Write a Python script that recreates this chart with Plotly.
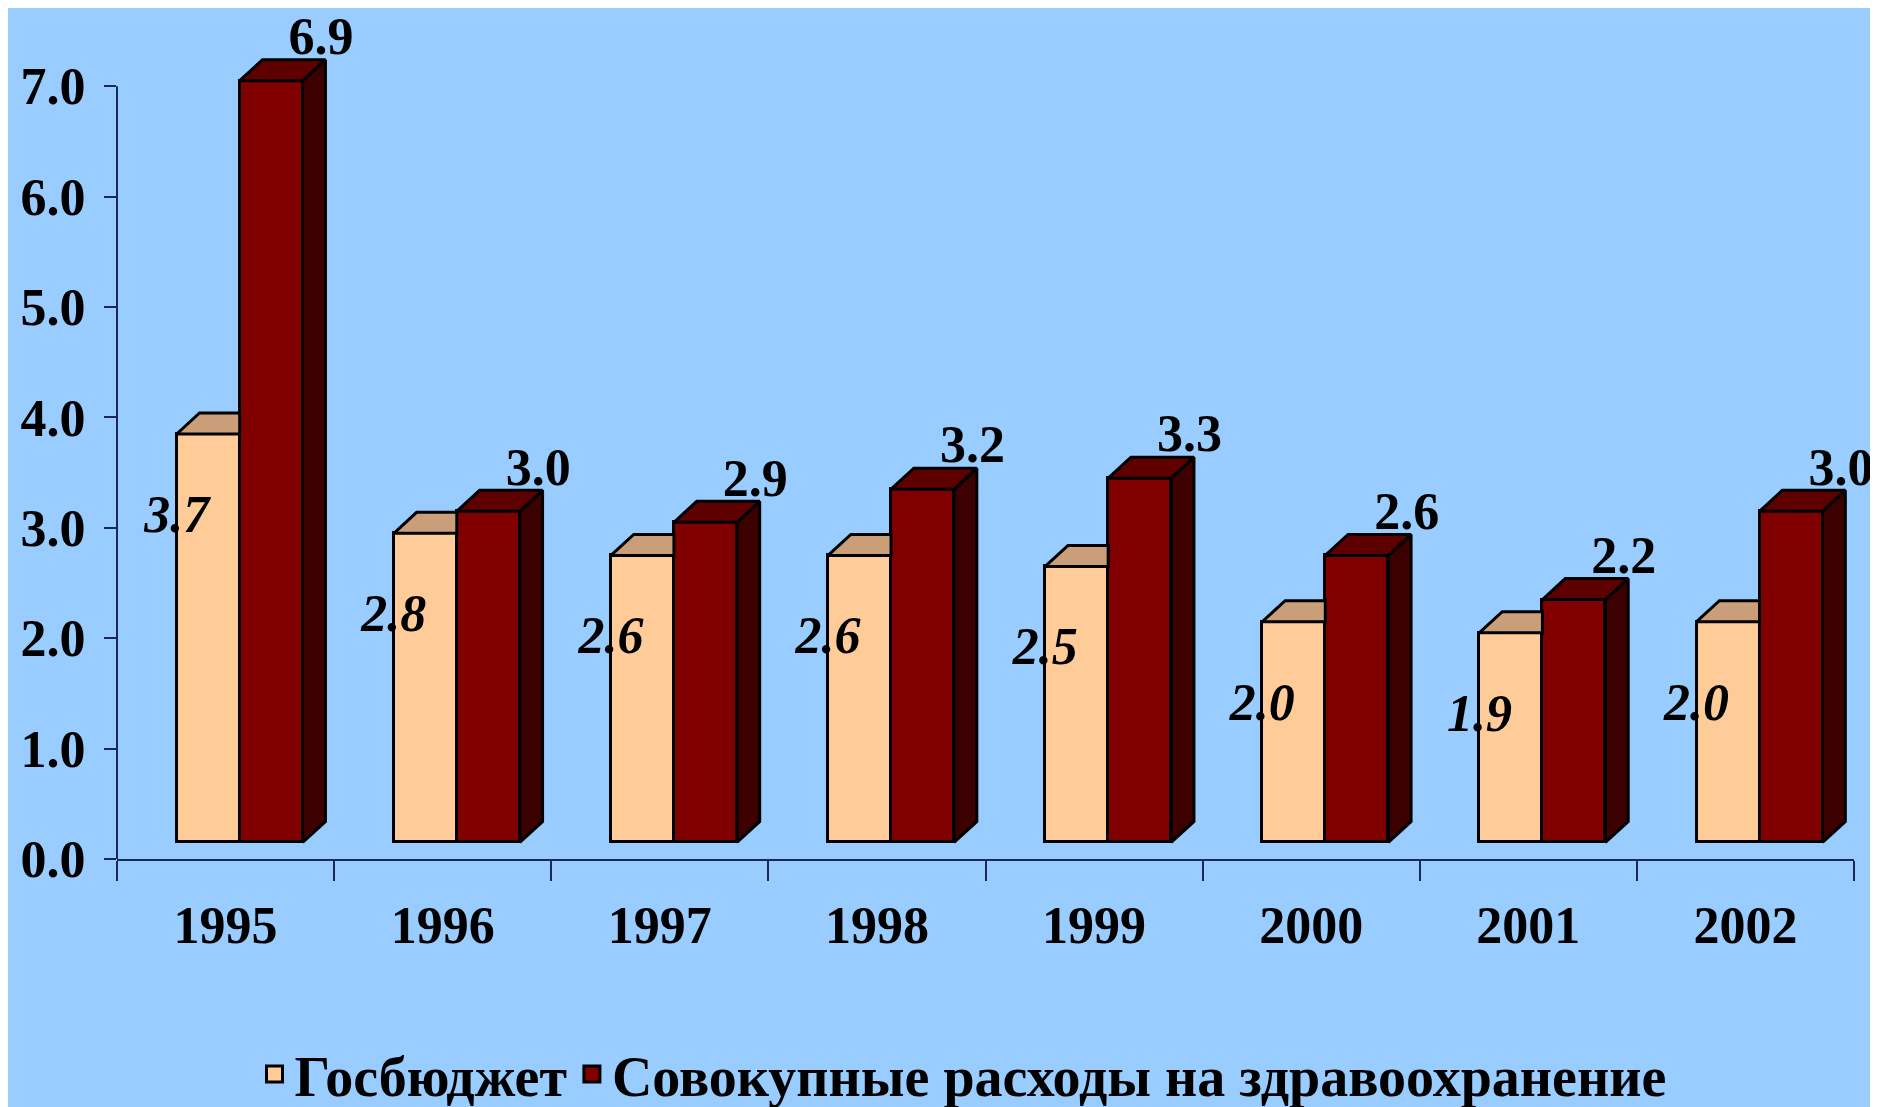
import plotly.graph_objects as go

years = ["1995", "1996", "1997", "1998", "1999", "2000", "2001", "2002"]
gosbudget = [3.7, 2.8, 2.6, 2.6, 2.5, 2.0, 1.9, 2.0]
total_health = [6.9, 3.0, 2.9, 3.2, 3.3, 2.6, 2.2, 3.0]
y_ticks = [0, 1, 2, 3, 4, 5, 6, 7]
name_a = "Госбюджет"
name_b = "Совокупные расходы на здравоохранение"

# --- styling / 3D emulation constants (layout, not data) ---
BG = "#99CCFF"
C_A, C_A_TOP = "#FFCC99", "#C99E78"
C_B, C_B_TOP, C_B_SIDE = "#800000", "#5E0000", "#3D0000"
AX = "#1A2A55"
FONT = "Liberation Serif"
FS = 52
BASE = 0.15      # floor offset of front faces
DX, DY = 0.105, 0.19   # depth offset (x units, y units)
A_OFF, W = -0.225, 0.29
B_OFF = A_OFF + W

idx = list(range(len(years)))

fig = go.Figure()
fig.add_trace(go.Bar(x=idx, y=gosbudget, base=BASE, offset=A_OFF, width=W,
                     marker=dict(color=C_A, line=dict(color="black", width=3)),
                     showlegend=False, hoverinfo="skip"))
fig.add_trace(go.Bar(x=idx, y=total_health, base=BASE, offset=B_OFF, width=W,
                     marker=dict(color=C_B, line=dict(color="black", width=3)),
                     showlegend=False, hoverinfo="skip"))

# top face of A (visible part only, up to left edge of B)
ax_, ay_ = [], []
for i, v in zip(idx, gosbudget):
    x0, x1, t = i + A_OFF, i + A_OFF + W, BASE + v
    ax_ += [x0, x1, x1, x0 + DX, x0, None]
    ay_ += [t, t, t + DY, t + DY, t, None]
fig.add_trace(go.Scatter(x=ax_, y=ay_, mode="lines", fill="toself", fillcolor=C_A_TOP,
                         line=dict(color="black", width=3), showlegend=False, hoverinfo="skip"))

# top and side faces of B
tx, ty, sx, sy = [], [], [], []
for i, v in zip(idx, total_health):
    x0, x1, t = i + B_OFF, i + B_OFF + W, BASE + v
    tx += [x0, x1, x1 + DX, x0 + DX, x0, None]
    ty += [t, t, t + DY, t + DY, t, None]
    sx += [x1, x1 + DX, x1 + DX, x1, x1, None]
    sy += [BASE, BASE + DY, t + DY, t, BASE, None]
fig.add_trace(go.Scatter(x=sx, y=sy, mode="lines", fill="toself", fillcolor=C_B_SIDE,
                         line=dict(color="black", width=3), showlegend=False, hoverinfo="skip"))
fig.add_trace(go.Scatter(x=tx, y=ty, mode="lines", fill="toself", fillcolor=C_B_TOP,
                         line=dict(color="black", width=3), showlegend=False, hoverinfo="skip"))

# value labels
fig.add_trace(go.Scatter(x=[i + A_OFF for i in idx], y=[v - 0.62 for v in gosbudget],
                         mode="text", text=[f"{v:.1f}" for v in gosbudget],
                         textposition="middle center", cliponaxis=False,
                         textfont=dict(family=FONT, size=FS, color="black", style="italic", weight="bold"),
                         showlegend=False, hoverinfo="skip"))
fig.add_trace(go.Scatter(x=[i + 0.44 for i in idx], y=[v + BASE + DY + 0.17 for v in total_health],
                         mode="text", text=[f"{v:.1f}" for v in total_health],
                         textposition="middle center", cliponaxis=False,
                         textfont=dict(family=FONT, size=FS, color="black", weight="bold"),
                         showlegend=False, hoverinfo="skip"))

# legend entries
for nm, col in [(name_a, C_A), (name_b, C_B)]:
    fig.add_trace(go.Scatter(x=[None], y=[None], mode="markers", name=nm,
                             marker=dict(symbol="square", size=26, color=col,
                                         line=dict(color="black", width=3))))

fig.update_layout(
    width=1878, height=1107,
    paper_bgcolor=BG, plot_bgcolor=BG,
    margin=dict(l=109, r=32, t=12, b=256, autoexpand=False),
    font=dict(family=FONT, color="black"),
    bargap=0, barmode="overlay",
    legend=dict(orientation="h", xref="container", yref="container",
                x=955 / 1878, y=41 / 1107, xanchor="center", yanchor="middle",
                font=dict(family=FONT, size=56, weight="bold"),
                bgcolor="rgba(0,0,0,0)", itemwidth=30, tracegroupgap=0),
    xaxis=dict(range=[-0.5, 7.5], tickmode="array", tickvals=idx, ticktext=years,
               ticks="", showgrid=False, zeroline=False, automargin=False,
               showline=True, linecolor=AX, linewidth=2,
               tickfont=dict(family=FONT, size=FS, weight="bold"),
               ticklabelstandoff=20,
               minor=dict(tickmode="array", tickvals=[i - 0.5 for i in range(len(years) + 1)],
                          ticks="outside", ticklen=20, tickwidth=2, tickcolor=AX)),
    yaxis=dict(range=[0, 7.6], tickmode="array", tickvals=y_ticks,
               ticktext=[f"{t:.1f}" for t in y_ticks],
               ticks="outside", ticklen=12, tickwidth=2, tickcolor=AX,
               showgrid=False, zeroline=False, showline=False, automargin=False,
               tickfont=dict(family=FONT, size=FS, weight="bold"),
               ticklabelstandoff=8),
)
# y axis line only spanning the tick range
fig.add_shape(type="line", xref="paper", yref="y", x0=0, x1=0, y0=0, y1=max(y_ticks),
              line=dict(color=AX, width=2))

fig.write_html("out.html")
